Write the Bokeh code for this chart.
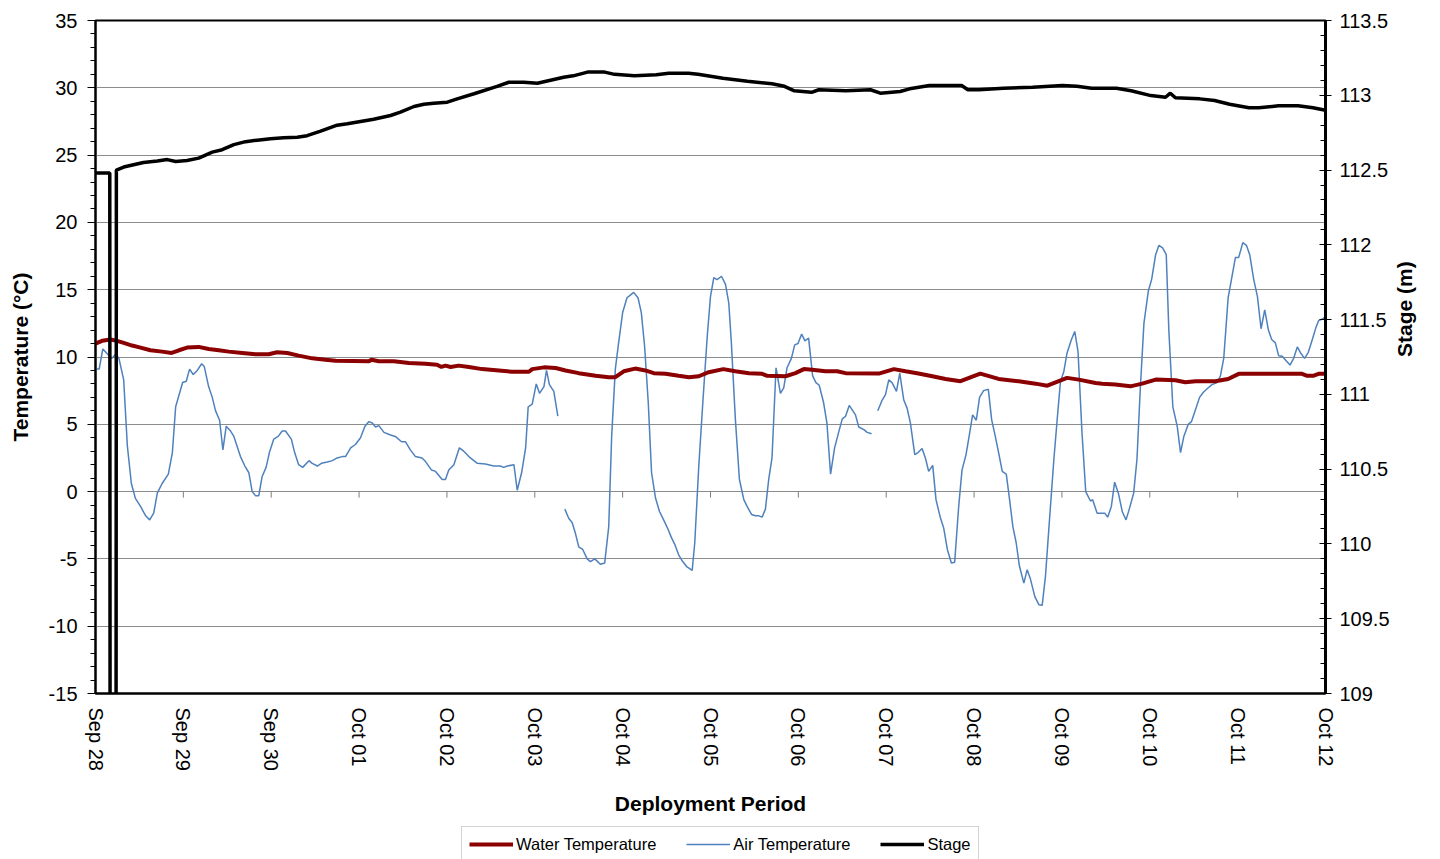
import math
import numpy as np
from bokeh.plotting import figure
from bokeh.layouts import column
from bokeh.models import (Range1d, LinearAxis, FixedTicker, Legend, LegendItem,
                          NumeralTickFormatter)
from bokeh.embed import file_html
from bokeh.resources import INLINE

# ---------------- data ----------------
day_labels = ["Sep 28", "Sep 29", "Sep 30", "Oct 01", "Oct 02", "Oct 03", "Oct 04",
              "Oct 05", "Oct 06", "Oct 07", "Oct 08", "Oct 09", "Oct 10", "Oct 11", "Oct 12"]
temp_ticks = [-15, -10, -5, 0, 5, 10, 15, 20, 25, 30, 35]
stage_ticks = [109, 109.5, 110, 110.5, 111, 111.5, 112, 112.5, 113, 113.5]
series_names = ["Water Temperature", "Air Temperature", "Stage"]

# (hours since Sep 28 00:00, deg C)
air_segment_1 = [
    (0, 9.1), (1, 9.1), (2, 10.6), (3, 10.3), (4.5, 9.9), (5.5, 10.2), (6.4, 9.9), (7.7, 8.3),
    (8.7, 3.4), (9.8, 0.6), (10.9, -0.5), (12.3, -1.1), (13.7, -1.8), (14.8, -2.1), (15.9, -1.6),
    (16.9, -0.1), (18.2, 0.6), (19.9, 1.3), (21.0, 2.9), (21.9, 6.3), (23.8, 8.1), (24.8, 8.2),
    (25.7, 9.1), (26.7, 8.7), (27.8, 9.0), (29.0, 9.5), (29.7, 9.3), (30.9, 7.8), (31.9, 7.0),
    (32.8, 6.0), (33.9, 5.3), (34.8, 3.1), (35.7, 4.85), (36.9, 4.5), (37.8, 4.1), (39.6, 2.6),
    (40.8, 1.9), (41.9, 1.4), (42.8, 0.0), (43.7, -0.3), (44.6, -0.3), (45.5, 1.1), (46.6, 1.8),
    (47.5, 2.9), (48.7, 3.9), (49.9, 4.1), (51.0, 4.5), (51.9, 4.5), (53.5, 3.9), (54.4, 2.9),
    (55.5, 2.0), (56.6, 1.8), (58.3, 2.3), (59.2, 2.1), (60.6, 1.9), (61.7, 2.1), (63.3, 2.2),
    (64.7, 2.3), (66.0, 2.5), (67.4, 2.6), (68.3, 2.6), (69.7, 3.25), (71.0, 3.5), (72.4, 4.0),
    (73.6, 4.85), (74.7, 5.2), (75.6, 5.1), (76.5, 4.8), (77.4, 4.9), (78.8, 4.4), (80.6, 4.2),
    (81.9, 4.1), (83.6, 3.7), (84.7, 3.7), (86.0, 3.1), (87.4, 2.6), (89.2, 2.5), (90.1, 2.25),
    (91.8, 1.6), (92.9, 1.5), (94.7, 0.9), (95.6, 0.9), (96.5, 1.6), (97.9, 2.0), (99.4, 3.25),
    (100.6, 3.0), (102.4, 2.5), (104.3, 2.1), (106.5, 2.05), (108.8, 1.9), (110.6, 1.9),
    (111.5, 1.8), (112.5, 1.9), (114.3, 2.0), (115.2, 0.1), (116.4, 1.4), (117.5, 3.25),
    (118.2, 6.3), (119.3, 6.5), (120.4, 8.0), (121.3, 7.3), (122.5, 7.8), (123.2, 9.0),
    (124.0, 7.95), (125.2, 7.45), (126.3, 5.6),
]
air_segment_2 = [
    (128.2, -1.3), (129.3, -2.0), (130.2, -2.3), (131.1, -3.1), (132.0, -4.1), (133.1, -4.3),
    (134.3, -5.0), (135.2, -5.2), (136.4, -5.0), (137.9, -5.4), (139.1, -5.3), (140.2, -2.6),
    (141.0, 4.1), (142.0, 9.1), (142.9, 11.05), (144.0, 13.3), (145.2, 14.4), (146.1, 14.6),
    (147.0, 14.8), (148.2, 14.4), (149.1, 13.3), (150.0, 10.8), (151.0, 6.6), (151.9, 1.4),
    (153.0, -0.5), (154.1, -1.5), (155.2, -2.1), (156.4, -2.8), (157.3, -3.4), (158.2, -3.9),
    (159.3, -4.7), (160.4, -5.2), (161.6, -5.6), (163.0, -5.85), (163.7, -3.8), (164.8, 1.9),
    (165.9, 6.6), (167.1, 11.5), (168.0, 14.5), (168.9, 15.9), (169.8, 15.75), (171.0, 16.0),
    (172.1, 15.4), (173.0, 14.0), (173.7, 11.05), (174.8, 5.35), (175.9, 0.9), (177.1, -0.6),
    (178.0, -1.1), (179.2, -1.7), (180.3, -1.8), (181.2, -1.8), (182.1, -1.9), (183.0, -1.3),
    (183.9, 0.9), (184.8, 2.5), (185.9, 9.2), (187.1, 7.3), (188.0, 7.7), (188.9, 9.2),
    (190.1, 9.9), (191.0, 10.9), (191.9, 11.0), (192.9, 11.7), (193.8, 11.2), (194.8, 11.4),
    (195.9, 8.6), (196.8, 8.1), (197.7, 7.9), (198.9, 6.6), (199.8, 5.1), (200.8, 1.3),
    (201.9, 3.25), (203.0, 4.4), (204.0, 5.4), (204.9, 5.6), (205.9, 6.4), (207.6, 5.7),
    (208.5, 4.8), (209.9, 4.6), (210.8, 4.4), (212.0, 4.3),
]
air_segment_3 = [
    (213.7, 6.0), (214.9, 6.8), (215.8, 7.2), (216.7, 8.3), (217.6, 8.1), (218.8, 7.45),
    (219.7, 8.8), (220.8, 6.8), (221.7, 6.2), (222.6, 5.1), (223.8, 2.75), (224.7, 2.9),
    (225.8, 3.2), (226.7, 2.5), (227.6, 1.5), (228.7, 1.95), (229.6, -0.6), (230.8, -1.95),
    (231.7, -2.7), (232.7, -4.3), (233.8, -5.3), (234.7, -5.25), (235.8, -1.1), (236.7, 1.6),
    (237.8, 2.75), (238.7, 4.2), (239.6, 5.7), (240.6, 5.3), (241.5, 7.0), (242.6, 7.5),
    (243.9, 7.6), (244.8, 5.35), (245.8, 4.1), (246.7, 2.9), (247.7, 1.5), (248.8, 1.3),
    (249.7, -0.6), (250.6, -2.6), (251.5, -3.8), (252.4, -5.55), (253.6, -6.8), (254.5, -5.8),
    (255.4, -6.5), (256.6, -7.8), (257.7, -8.4), (258.6, -8.45), (259.5, -6.3), (260.6, -2.1),
    (261.8, 2.4), (262.7, 5.35), (263.6, 8.2), (264.5, 8.9), (265.4, 10.3), (266.6, 11.3),
    (267.5, 11.9), (268.4, 10.4), (269.5, 4.3), (270.5, 0.0), (271.8, -0.7), (272.4, -0.6),
    (273.6, -1.6), (274.8, -1.6), (275.7, -1.6), (276.5, -1.9), (277.5, -1.1), (278.4, 0.7),
    (279.4, -0.1), (280.5, -1.5), (281.5, -2.1), (282.4, -1.3), (283.6, -0.1), (284.5, 2.4),
    (285.4, 7.6), (286.4, 12.5), (287.6, 14.9), (288.5, 15.75), (289.6, 17.6), (290.5, 18.3),
    (291.5, 18.1), (292.5, 17.6), (293.2, 12.0), (294.3, 6.3), (295.5, 4.85), (296.4, 2.9),
    (297.3, 4.1), (298.5, 5.0), (299.4, 5.2), (300.5, 6.1), (301.6, 7.0), (302.7, 7.4),
    (303.9, 7.7), (305.0, 7.95), (306.4, 8.1), (307.3, 8.6), (308.2, 9.9), (308.9, 12.5),
    (309.4, 14.4), (310.3, 15.75), (311.4, 17.4), (312.3, 17.4), (313.4, 18.5), (314.4, 18.3),
    (315.3, 17.6), (316.4, 15.75), (317.4, 14.5), (318.4, 12.1), (319.4, 13.5), (320.4, 12.0),
    (321.3, 11.3), (322.3, 11.05), (323.2, 10.1), (324.2, 10.05), (325.3, 9.7), (326.3, 9.4),
    (327.3, 9.9), (328.3, 10.75), (329.2, 10.3), (330.3, 9.9), (331.3, 10.35), (332.4, 11.3),
    (333.4, 12.2), (334.1, 12.7), (335.0, 12.8), (335.8, 12.95),
]

# (hours, deg C)
water_temp = [
    (0, 11.0), (1.8, 11.2), (4.1, 11.3), (5.9, 11.2), (7.7, 11.05), (10.0, 10.85), (12.3, 10.7),
    (15.0, 10.5), (18.2, 10.4), (20.8, 10.3), (22.8, 10.5), (25.0, 10.7), (28.2, 10.75),
    (30.9, 10.6), (33.7, 10.5), (36.4, 10.4), (40.1, 10.3), (43.7, 10.2), (47.3, 10.2),
    (49.6, 10.35), (52.4, 10.3), (55.5, 10.1), (59.2, 9.9), (62.8, 9.8), (65.6, 9.73),
    (74.7, 9.68), (75.4, 9.8), (77.4, 9.68), (81.5, 9.68), (85.6, 9.56), (90.1, 9.5),
    (93.3, 9.43), (94.5, 9.26), (95.6, 9.36), (97.0, 9.26), (99.2, 9.36), (102.0, 9.26),
    (105.6, 9.1), (110.2, 9.0), (113.8, 8.9), (118.4, 8.9), (119.3, 9.1), (122.5, 9.23),
    (125.7, 9.18), (128.4, 9.0), (132.0, 8.8), (136.6, 8.6), (140.2, 8.5), (142.0, 8.5),
    (144.3, 8.94), (147.4, 9.14), (150.2, 9.0), (152.5, 8.8), (155.7, 8.75), (159.3, 8.6),
    (162.1, 8.5), (164.8, 8.57), (167.5, 8.87), (171.5, 9.1), (174.8, 8.94), (178.5, 8.8),
    (182.1, 8.75), (183.5, 8.6), (188.5, 8.57), (191.2, 8.8), (193.5, 9.1), (195.8, 9.06),
    (199.4, 8.94), (202.6, 8.94), (204.9, 8.8), (214.0, 8.77), (218.1, 9.1), (221.3, 8.94),
    (224.8, 8.77), (228.6, 8.57), (232.2, 8.37), (236.3, 8.2), (241.7, 8.77), (246.7, 8.37),
    (252.2, 8.2), (256.8, 8.02), (260.0, 7.87), (265.4, 8.45), (268.6, 8.32), (273.2, 8.07),
    (275.0, 8.02), (278.6, 7.95), (282.7, 7.82), (285.9, 8.02), (289.6, 8.32), (295.0, 8.27),
    (297.7, 8.12), (300.5, 8.2), (305.9, 8.2), (309.4, 8.37), (312.3, 8.75), (329.6, 8.75),
    (331.0, 8.6), (332.6, 8.6), (334.1, 8.75), (336.0, 8.75),
]

# (hours, m)
stage = [
    (0, 112.48), (3.9, 112.48), (4.0, 108.0), (5.6, 108.0), (5.7, 112.50), (7.7, 112.52),
    (10.4, 112.535), (13.1, 112.55), (16.9, 112.56), (19.6, 112.57), (21.9, 112.557),
    (25.0, 112.564), (28.2, 112.58), (31.9, 112.62), (34.6, 112.636), (37.8, 112.67),
    (41.0, 112.69), (44.2, 112.70), (47.8, 112.71), (51.4, 112.716), (55.1, 112.72),
    (57.8, 112.73), (61.5, 112.76), (66.0, 112.80), (68.8, 112.81), (72.4, 112.825),
    (76.0, 112.84), (80.6, 112.865), (83.3, 112.887), (87.0, 112.925), (89.7, 112.94),
    (92.4, 112.947), (96.1, 112.954), (98.8, 112.976), (103.4, 113.01), (109.7, 113.06),
    (112.9, 113.087), (117.0, 113.087), (120.7, 113.08), (124.3, 113.10), (127.9, 113.12),
    (130.5, 113.13), (134.4, 113.155), (139.1, 113.155), (141.8, 113.14), (147.2, 113.13),
    (153.2, 113.137), (156.6, 113.148), (162.0, 113.148), (164.6, 113.14), (171.4, 113.114),
    (178.1, 113.094), (184.8, 113.077), (188.2, 113.06), (190.9, 113.03), (195.6, 113.02),
    (197.6, 113.037), (205.0, 113.03), (211.7, 113.037), (214.4, 113.014), (219.8, 113.025),
    (222.4, 113.043), (227.8, 113.065), (236.6, 113.065), (238.3, 113.037), (241.3, 113.037),
    (248.0, 113.047), (256.0, 113.054), (264.1, 113.065), (268.1, 113.06), (272.1, 113.047),
    (278.9, 113.047), (282.9, 113.03), (288.3, 112.998), (292.3, 112.987), (293.6, 113.014),
    (295.0, 112.983), (301.7, 112.976), (305.7, 112.965), (309.8, 112.94), (315.1, 112.916),
    (317.8, 112.916), (323.2, 112.93), (328.5, 112.93), (332.6, 112.916), (336.0, 112.90),
]

# ---------------- styles ----------------
FONT = "Liberation Sans"
WATER_COLOR, WATER_W = "#8B0000", 4
AIR_COLOR, AIR_W = "#4F81BD", 1.5
STAGE_COLOR, STAGE_W = "black", 3.5


def xy(series):
    arr = np.array(series, dtype=float)
    return arr[:, 0] / 24.0, arr[:, 1]


p = figure(width=1440, height=826, x_range=Range1d(0, 14), y_range=Range1d(-15, 35),
           output_backend="svg", toolbar_location=None,
           min_border_left=95, min_border_right=115, min_border_top=20, min_border_bottom=133)
p.extra_y_ranges = {"stage": Range1d(109, 113.5)}
p.outline_line_color = "black"
p.outline_line_width = 2
p.background_fill_color = "white"
p.border_fill_color = "white"

# grid
p.xgrid.visible = False
p.ygrid.ticker = FixedTicker(ticks=temp_ticks)
p.ygrid.grid_line_color = "#8c8c8c"
p.ygrid.grid_line_width = 1

# x axis
xa = p.xaxis[0]
xa.ticker = FixedTicker(ticks=list(range(len(day_labels))))
xa.major_label_overrides = {i: lab for i, lab in enumerate(day_labels)}
xa.major_label_orientation = -math.pi / 2
xa.major_tick_out = 0
xa.major_tick_in = 0
xa.minor_tick_out = 0
xa.minor_tick_in = 0
xa.major_label_standoff = 14
xa.major_label_text_font = FONT
xa.major_label_text_font_size = "20px"
xa.major_label_text_color = "black"
xa.axis_line_color = "black"
xa.axis_line_width = 2
xa.axis_label = "Deployment Period"
xa.axis_label_text_font = FONT
xa.axis_label_text_font_size = "21px"
xa.axis_label_text_font_style = "bold"
xa.axis_label_text_color = "black"
xa.axis_label_standoff = 18

# left axis
ya = p.yaxis[0]
ya.ticker = FixedTicker(ticks=temp_ticks, minor_ticks=list(range(-15, 36)))
ya.major_label_overrides = {t: str(t) for t in temp_ticks}
ya.major_tick_out = 8
ya.major_tick_in = 0
ya.minor_tick_out = 5
ya.minor_tick_in = 0
ya.major_tick_line_color = "black"
ya.minor_tick_line_color = "black"
ya.axis_line_color = "black"
ya.axis_line_width = 2
ya.major_label_standoff = 10
ya.major_label_text_font = FONT
ya.major_label_text_font_size = "20px"
ya.major_label_text_color = "black"
ya.axis_label = "Temperature (°C)"
ya.axis_label_text_font = FONT
ya.axis_label_text_font_size = "21px"
ya.axis_label_text_font_style = "bold"
ya.axis_label_text_color = "black"
ya.axis_label_standoff = 14

# right axis
ra = LinearAxis(y_range_name="stage",
                ticker=FixedTicker(ticks=stage_ticks,
                                   minor_ticks=[round(109 + 0.1 * i, 1) for i in range(46)]),
                formatter=NumeralTickFormatter(format="0.[0]"))
ra.major_tick_out = 6
ra.major_tick_in = 6
ra.minor_tick_out = 0
ra.minor_tick_in = 5
ra.axis_line_color = "black"
ra.axis_line_width = 3
ra.major_label_standoff = 8
ra.major_label_text_font = FONT
ra.major_label_text_font_size = "20px"
ra.major_label_text_color = "black"
ra.axis_label = "Stage (m)"
ra.axis_label_text_font = FONT
ra.axis_label_text_font_size = "21px"
ra.axis_label_text_font_style = "bold"
ra.axis_label_text_color = "black"
ra.axis_label_standoff = 12
ra.axis_label_orientation = math.pi / 2
p.add_layout(ra, "right")

# tick marks of the category axis on the zero line
tick_days = np.arange(len(day_labels), dtype=float)
p.segment(x0=tick_days, y0=np.zeros_like(tick_days), x1=tick_days,
          y1=np.full_like(tick_days, -0.45), line_color="#7f7f7f", line_width=1)

# series
for seg in (air_segment_1, air_segment_2, air_segment_3):
    x, y = xy(seg)
    p.line(x, y, line_color=AIR_COLOR, line_width=AIR_W)

wx, wy = xy(water_temp)
p.line(wx, wy, line_color=WATER_COLOR, line_width=WATER_W)

sx, sy = xy(stage)
p.line(sx, sy, line_color=STAGE_COLOR, line_width=STAGE_W, y_range_name="stage")

# ---------------- legend strip below the chart ----------------
# (its frame is aligned with the chart frame by the column layout)
lg = figure(width=1440, height=33, x_range=Range1d(0, 1), y_range=Range1d(0, 1),
            x_axis_type=None, y_axis_type=None, output_backend="svg", toolbar_location=None,
            min_border=0, outline_line_color=None)
lg.grid.visible = False
lg.background_fill_color = "white"
lg.border_fill_color = "white"
# sample lines that lie outside the strip's range: only their legend swatches show
hidden_x, hidden_y = [5, 6], [5, 5]
r_w = lg.line(hidden_x, hidden_y, line_color=WATER_COLOR, line_width=WATER_W)
r_a = lg.line(hidden_x, hidden_y, line_color=AIR_COLOR, line_width=AIR_W)
r_s = lg.line(hidden_x, hidden_y, line_color=STAGE_COLOR, line_width=STAGE_W)

legend = Legend(items=[
    LegendItem(label=series_names[0], renderers=[r_w]),
    LegendItem(label=series_names[1], renderers=[r_a]),
    LegendItem(label=series_names[2], renderers=[r_s]),
], orientation="horizontal", location=(366, -3))
legend.label_text_font = FONT
legend.label_text_font_size = "16.5px"
legend.label_text_color = "black"
legend.glyph_width = 44
legend.glyph_height = 20
legend.label_height = 20
legend.label_standoff = 3
legend.spacing = 30
legend.padding = 7
legend.margin = 0
legend.border_line_color = "#a6a6a6"
legend.border_line_width = 1
legend.background_fill_color = "white"
legend.background_fill_alpha = 1
lg.add_layout(legend)

layout = column(p, lg, spacing=0)
open("out.html", "w").write(file_html(layout, INLINE))
